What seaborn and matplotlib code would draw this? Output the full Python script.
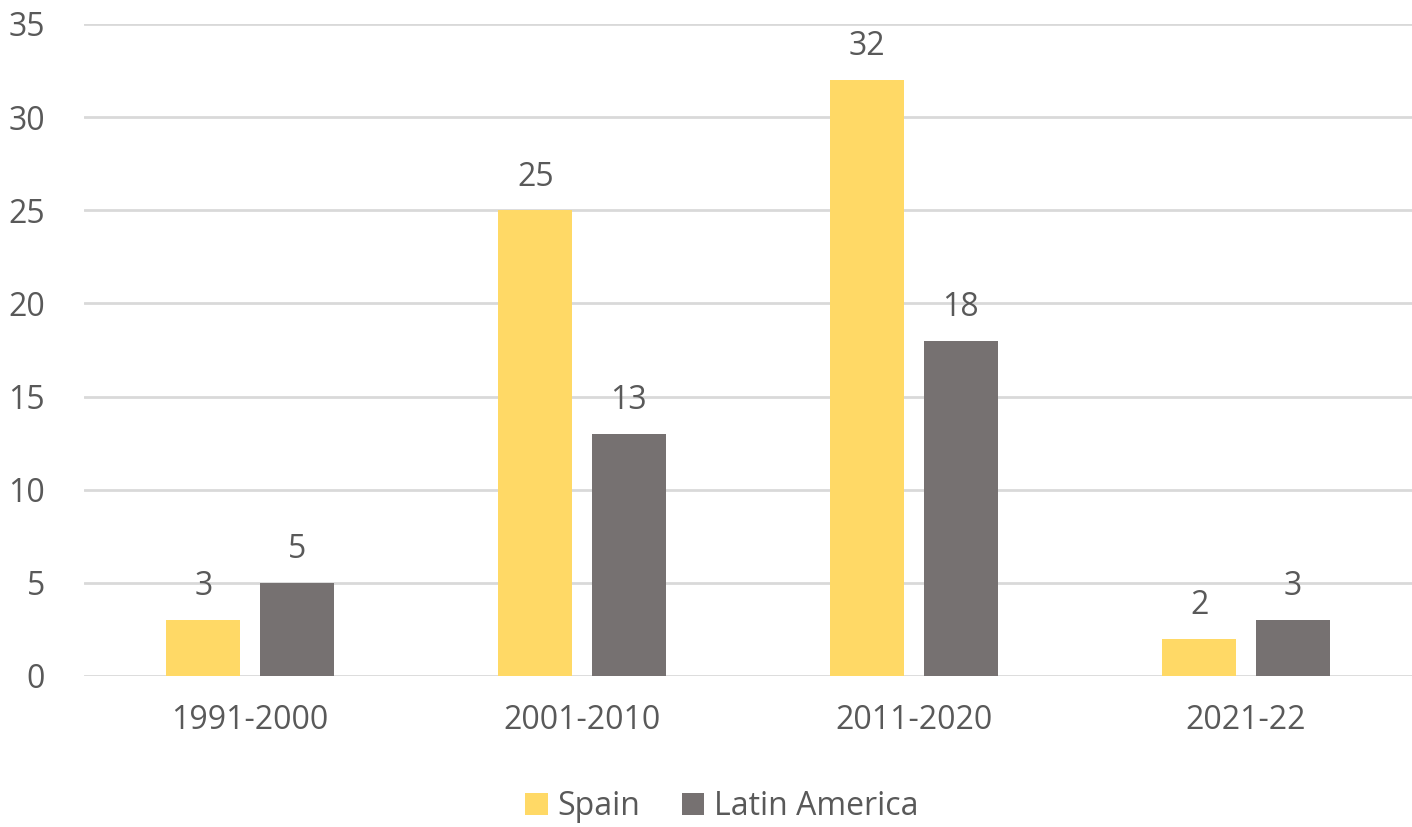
import matplotlib
matplotlib.use("Agg")
import matplotlib.pyplot as plt
import seaborn as sns
import pandas as pd

categories = ["1991-2000", "2001-2010", "2011-2020", "2021-22"]
spain = [3, 25, 32, 2]
latin_america = [5, 13, 18, 3]
series_names = ["Spain", "Latin America"]
colors = ["#FFD966", "#767171"]

df = pd.DataFrame({
    "period": categories * 2,
    "value": spain + latin_america,
    "region": [series_names[0]] * 4 + [series_names[1]] * 4,
})

sns.set_theme(style="white")
plt.rcParams["font.family"] = ["Open Sans", "DejaVu Sans"]
text_color = "#595959"
fs = 23

fig = plt.figure(figsize=(14.12, 8.27), dpi=100)
ax = fig.add_axes([0.0595, 0.1826, 0.9405, 0.7884])

sns.barplot(data=df, x="period", y="value", hue="region", palette=colors,
            width=0.564, gap=0.21, ax=ax, legend=True, saturation=1, linewidth=0)

for c in ax.containers:
    ax.bar_label(c, padding=12, fontsize=fs, color=text_color)

ax.set_ylim(0, 35)
ax.set_xlim(-0.5, 3.5)
ax.set_yticks(range(0, 36, 5))
ax.yaxis.grid(True, color="#D9D9D9", linewidth=2)
ax.set_axisbelow(True)
for s in ax.spines.values():
    s.set_visible(False)
ax.set_xlabel("")
ax.set_ylabel("")
ax.tick_params(axis="both", labelsize=fs, colors=text_color, length=0)
ax.tick_params(axis="x", pad=20)
ax.tick_params(axis="y", pad=28)

handles, labels = ax.get_legend_handles_labels()
ax.legend(handles, labels, loc="center", bbox_to_anchor=(0.5 - 0.0595 / 2 + 0.01, -0.2),
          ncol=2, frameon=False, fontsize=fs, labelcolor=text_color,
          handlelength=0.7, handleheight=0.7, handletextpad=0.3, columnspacing=1.3)

fig.savefig("out.png", dpi=100, facecolor="white")
